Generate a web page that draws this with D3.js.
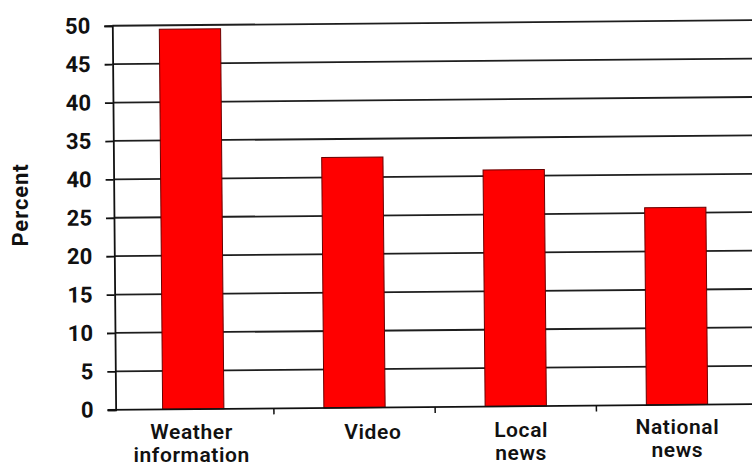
<!DOCTYPE html>
<html><head><meta charset="utf-8">
<script src="https://cdn.jsdelivr.net/npm/d3@7"></script>
<style>
html,body{margin:0;padding:0;background:#fff;}
svg{display:block;}
</style></head>
<body>
<svg id="chart" width="752" height="468"></svg>
<script>
const categories = [["Weather","information"],["Video"],["Local","news"],["National","news"]];
const categoryKeys = ["Weather information","Video","Local news","National news"];
const values = [49.5, 32.6, 30.8, 25.7];
const tickValues = [0,5,10,15,20,25,30,35,40,45,50];
const tickLabels = ["0","5","10","15","20","25","40","35","40","45","50"];
const yTitle = "Percent";

(function(){
const svg = d3.select("#chart");
const mLeft = 114, mBottom = 407, mTop = 23, mRight = 756;
const font = "Roboto,'DejaVu Sans',Arial,sans-serif";
// label layout (scan offsets)
const labelDx = [0, 20, 7, 2];
const labelY0 = [439, 439, 437, 434];
const labelLH = 23;
const labelFS = 21;

const x = d3.scaleBand().domain(categoryKeys).range([111, mRight])
  .paddingInner(0.62).paddingOuter(0.31);
const y = d3.scaleLinear().domain([0,50]).range([mBottom, mTop]);

const g = svg.append("g").attr("transform","rotate(-0.5 430 220)");

// gridlines
g.append("g").selectAll("line").data(tickValues.filter(v=>v>0)).join("line")
  .attr("x1", mLeft).attr("x2", 760)
  .attr("y1", d=>y(d)).attr("y2", d=>y(d))
  .attr("stroke","#1e1e1e").attr("stroke-width",1.8);

// bars
g.append("g").selectAll("rect").data(values).join("rect")
  .attr("x",(d,i)=>x(categoryKeys[i]))
  .attr("width", x.bandwidth())
  .attr("y", d=>y(d))
  .attr("height", d=>y(0)-y(d))
  .attr("fill","#ff0000").attr("stroke","#6a0000").attr("stroke-width",1);

// y axis
const yAxis = d3.axisLeft(y).tickValues(tickValues)
  .tickFormat((d,i)=>tickLabels[i]).tickSize(8).tickPadding(14);
const ya = g.append("g").attr("transform",`translate(${mLeft},0)`).call(yAxis);
ya.select(".domain").attr("stroke","#111").attr("stroke-width",1.8);
ya.selectAll(".tick line").attr("stroke","#111").attr("stroke-width",1.8);
ya.selectAll(".tick text").attr("font-family",font).attr("font-weight","bold")
  .attr("font-size",22).attr("fill","#111");

// x axis
const xb = g.append("g").attr("transform",`translate(0,${mBottom})`);
xb.append("line").attr("x1",mLeft-8).attr("x2",760).attr("y1",0).attr("y2",0)
  .attr("stroke","#111").attr("stroke-width",1.8);
const step = x.step();
xb.selectAll("line.tk").data(categoryKeys.slice(0,3)).join("line").attr("class","tk")
  .attr("x1",d=>x(d)+x.bandwidth()/2+step/2).attr("x2",d=>x(d)+x.bandwidth()/2+step/2)
  .attr("y1",0).attr("y2",6).attr("stroke","#111").attr("stroke-width",1.5);

// category labels
const lab = svg.append("g");
categories.forEach((lines,i)=>{
  const cx = x(categoryKeys[i]) + x.bandwidth()/2 + labelDx[i];
  lines.forEach((ln,j)=>{
    lab.append("text").attr("text-anchor","middle")
      .attr("font-family",font).attr("font-size",labelFS).attr("fill","#111")
      .attr("font-weight",600).attr("letter-spacing",0.6)
      .attr("x",cx).attr("y",labelY0[i] + j*labelLH).text(ln);
  });
});

// y title
svg.append("text").attr("transform","translate(28,205) rotate(-90)")
  .attr("text-anchor","middle").attr("font-family",font).attr("font-weight","bold")
  .attr("font-size",22).attr("letter-spacing",0.9).attr("fill","#111").text(yTitle);
})();
</script>
</body></html>
